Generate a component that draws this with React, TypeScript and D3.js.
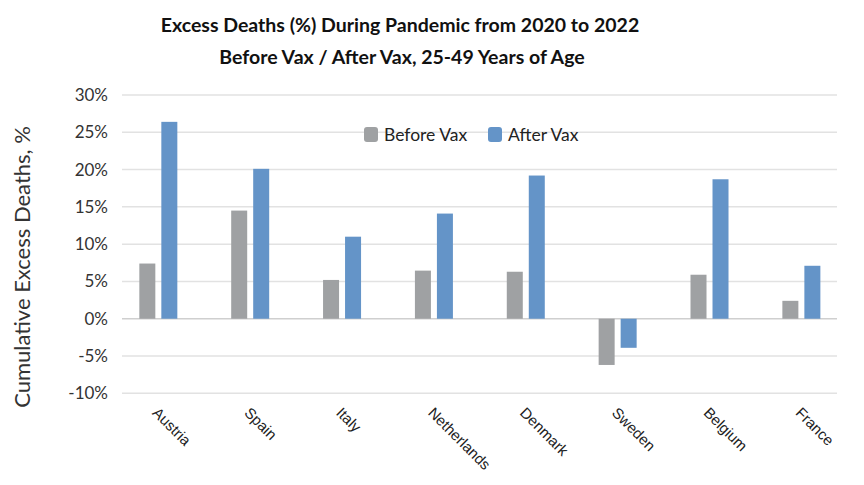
import React, { useRef, useEffect } from "react";
import * as d3 from "d3";

const countries = ["Austria", "Spain", "Italy", "Netherlands", "Denmark", "Sweden", "Belgium", "France"];
const beforeVax = [7.4, 14.5, 5.2, 6.45, 6.3, -6.2, 5.9, 2.4];
const afterVax = [26.4, 20.1, 11.0, 14.1, 19.2, -3.9, 18.7, 7.1];
const seriesNames = ["Before Vax", "After Vax"];
const seriesColors = ["#9fa1a3", "#6494c8"];
const yTicks = [-10, -5, 0, 5, 10, 15, 20, 25, 30];

const width = 864;
const height = 485;

const App: React.FC = () => {
  const svgRef = useRef<SVGSVGElement | null>(null);

  useEffect(() => {
    const root = d3.select(svgRef.current);
    root.selectAll("*").remove();

    const y = d3.scaleLinear().domain([-10, 30]).range([393.3, 95]);
    const x0 = d3.scaleBand<string>().domain(countries).range([112.4, 847.3]);
    // bars inside a group: 16px wide, 6px apart
    const x1 = d3
      .scaleBand<string>()
      .domain(seriesNames)
      .range([-19, 19])
      .paddingInner(0.2727);

    const gridLeft = 122;
    const gridRight = 837;

    // title
    const title = root
      .append("g")
      .attr("font-family", "Lato, 'Open Sans', sans-serif")
      .attr("font-weight", 700)
      .attr("font-size", 19.5)
      .attr("fill", "#111")
      .attr("text-anchor", "middle");
    title.append("text").attr("x", 400).attr("y", 32).text("Excess Deaths (%) During Pandemic from 2020 to 2022");
    title.append("text").attr("x", 402).attr("y", 64).text("Before Vax / After Vax, 25-49 Years of Age");

    // grid lines
    root
      .append("g")
      .selectAll("line")
      .data(yTicks)
      .enter()
      .append("line")
      .attr("x1", gridLeft)
      .attr("x2", gridRight)
      .attr("y1", (d) => y(d))
      .attr("y2", (d) => y(d))
      .attr("stroke", (d) => (d === 0 ? "#cfcfcf" : "#e2e2e2"))
      .attr("stroke-width", 1.5);

    // y tick labels
    root
      .append("g")
      .attr("font-family", "Lato, 'Open Sans', sans-serif")
      .attr("font-size", 17)
      .attr("fill", "#333")
      .attr("text-anchor", "end")
      .selectAll("text")
      .data(yTicks)
      .enter()
      .append("text")
      .attr("x", 108)
      .attr("y", (d) => y(d))
      .attr("dy", "0.35em")
      .text((d) => `${d}%`);

    // y axis title
    root
      .append("text")
      .attr("transform", `translate(22, 267) rotate(-90)`)
      .attr("text-anchor", "middle")
      .attr("dy", "0.35em")
      .attr("font-family", "Lato, 'Open Sans', sans-serif")
      .attr("font-size", 22)
      .attr("fill", "#333")
      .text("Cumulative Excess Deaths, %");

    // bars
    const groups = root
      .append("g")
      .selectAll("g")
      .data(countries)
      .enter()
      .append("g")
      .attr("transform", (d) => `translate(${(x0(d) as number) + x0.bandwidth() / 2},0)`);

    groups
      .selectAll("rect")
      .data((d, i) => [
        { key: seriesNames[0], value: beforeVax[i], color: seriesColors[0] },
        { key: seriesNames[1], value: afterVax[i], color: seriesColors[1] },
      ])
      .enter()
      .append("rect")
      .attr("x", (d) => x1(d.key) as number)
      .attr("width", x1.bandwidth())
      .attr("y", (d) => y(Math.max(0, d.value)))
      .attr("height", (d) => Math.abs(y(d.value) - y(0)))
      .attr("fill", (d) => d.color);

    // x labels
    root
      .append("g")
      .attr("font-family", "'Liberation Sans', Arial, sans-serif")
      .attr("font-size", 15)
      .attr("fill", "#222")
      .selectAll("text")
      .data(countries)
      .enter()
      .append("text")
      .attr("transform", (d) => `translate(${(x0(d) as number) + x0.bandwidth() / 2 - 3}, 410) rotate(45)`)
      .attr("dy", "0.35em")
      .text((d) => d);

    // legend
    const legendX = [364, 488];
    const legend = root
      .append("g")
      .selectAll("g")
      .data(seriesNames)
      .enter()
      .append("g")
      .attr("transform", (d, i) => `translate(${legendX[i]}, 127)`);
    legend
      .append("rect")
      .attr("width", 14)
      .attr("height", 15)
      .attr("rx", 3)
      .attr("fill", (d, i) => seriesColors[i]);
    legend
      .append("text")
      .attr("x", 20)
      .attr("y", 7.5)
      .attr("dy", "0.35em")
      .attr("font-family", "Lato, 'Open Sans', sans-serif")
      .attr("font-size", 17.5)
      .attr("fill", "#222")
      .text((d) => d);
  }, []);

  return (
    <svg
      ref={svgRef}
      width={width}
      height={height}
      style={{ position: "absolute", left: 0, top: 0, background: "#fff" }}
    ></svg>
  );
};

export default App;
